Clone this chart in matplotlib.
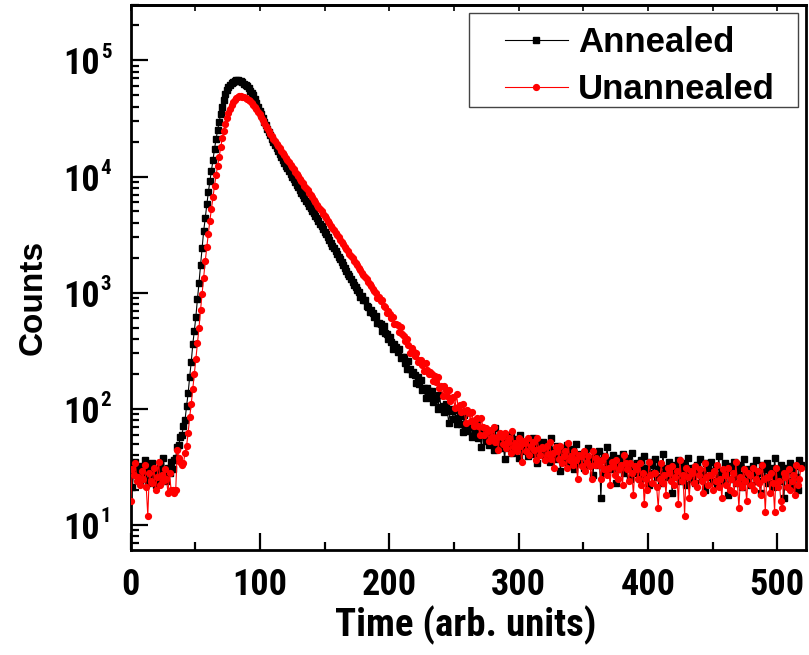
import numpy as np
import matplotlib
matplotlib.use('Agg')
import matplotlib.pyplot as plt
from matplotlib import font_manager as fm
from matplotlib.font_manager import FontProperties
from matplotlib.ticker import FixedLocator, LogLocator, NullFormatter, MultipleLocator
from matplotlib.patches import Rectangle
import matplotlib.transforms as mtransforms

# ---------------- data ----------------
time_step = 1.2  # time units per channel

annealed = [
    33, 21, 29, 35, 27, 30, 24, 32, 26, 36, 29, 23, 31, 27, 34, 28, 22, 30, 25, 33, 29, 38, 27, 24, 31, 28, 35, 30,
    36, 38, 47, 49, 57, 60, 71, 80, 106, 136, 189, 254, 358, 470, 622, 885, 1210, 1730, 2405, 3380,
    4370, 5750, 7310, 9120, 11220, 13800, 17380, 20890, 25120, 29510, 34670, 39810, 45710, 51290, 55590, 58880,
    61660, 63830, 65610, 66830, 67300, 67300, 66830, 66070, 64860, 63100, 61660, 60260, 57540, 54950, 52480,
    50120, 46450, 42950, 39810, 36810,
    34280, 31840, 29650, 27670, 25820, 24150, 22650, 21230, 19950, 18750, 17620, 16600, 15630, 14720, 13900,
    13120, 12420, 11750, 11120, 10520, 9980, 9460, 8970, 8510, 8070, 7660, 7280, 6920, 6530, 6190,
    5900, 5620, 5350, 5080, 4830, 4590, 4370, 4140, 3930, 3720, 3530, 3350, 3170, 3000, 2840, 2690, 2540,
    2400, 2280, 2150, 2040, 1930, 1820, 1730, 1630, 1550, 1460, 1380, 1310, 1240, 1170, 1110, 1050,
    1009, 921, 936, 863, 871, 771, 756, 676, 709, 665, 612, 625, 547, 543, 533, 468, 518, 445, 438, 399,
    416, 377, 326, 360, 340, 306, 326, 273, 280, 279, 247, 219, 256, 221, 200, 206, 195, 168, 186, 164,
    178, 144, 150, 125, 151, 141, 126, 142, 114, 121, 124, 100, 131, 103,
    106, 94, 109, 96, 76, 99, 95, 81, 97, 74, 83, 87, 74, 63, 88, 72, 64, 72, 69, 57, 71, 62, 75, 56, 62,
    47, 65, 61, 53, 65, 49, 55, 58, 44, 68, 50, 53, 46, 59, 50, 37, 56, 54, 46, 59, 42, 50, 55, 46, 38,
    60, 48, 43, 50, 49, 39, 52, 45, 56, 41, 46, 34, 51, 47, 41, 52, 38, 44, 47, 35, 56, 40, 44, 37, 48,
    41, 29, 46, 44, 37, 49, 34, 41, 45, 37, 30, 50, 39, 34, 41, 40, 31,
    42, 36, 46, 33, 37, 27, 42, 39, 33, 43, 17, 36, 39, 28, 47, 33, 36, 30, 40, 34, 23, 38, 37, 30, 41,
    28, 34, 38, 31, 25, 42, 33, 28, 34, 33, 25, 36, 30, 39, 27, 31,
    22, 35, 33, 28, 37, 26, 30, 33, 23, 41, 28, 31, 26, 35, 29, 19, 33, 32, 26, 36,
    24, 30, 34, 28, 22, 38, 30, 25, 31, 31, 23, 33, 28, 37, 25, 29, 20, 34, 31, 26,
    35, 24, 29, 32, 22, 39, 27, 29, 24, 34, 28, 18, 32, 31, 25, 35, 23, 29, 33, 27,
    21, 37, 28, 24, 30, 29, 22, 32, 27, 36, 24, 28, 19, 33, 30, 25, 34, 23, 28, 31,
    21, 38, 26, 28, 24, 33, 27, 17, 31, 30, 24, 34, 22, 28, 32, 26, 20, 36, 33,
]

unannealed = [
    16, 30, 27, 34, 24, 26, 22, 29, 25, 33, 21, 12, 28, 24, 23, 31, 20, 26, 35, 22, 27, 24, 30, 25, 19,
    28, 20, 20, 19, 20, 44, 38, 35, 33, 34, 42,
    48, 62, 85, 110, 148, 200, 270, 365, 500, 710, 980, 1350, 1860, 2460, 3210, 4170, 5250, 6610, 8320,
    10230, 12300, 14790, 17780, 21380, 24890, 28510, 32060, 35560, 38460, 41210, 43650, 45710, 47310,
    48420, 48980, 48980, 48530, 48080, 47420, 46560, 45500, 44260, 42850, 41300, 39630, 37840, 36060, 34280,
    32510, 30760, 29040, 27420, 25940, 24550, 23280, 22130, 21090, 20140, 19230, 18320, 17500, 16710,
    15960, 15240, 14520, 13870, 13240, 12650, 12080, 11530, 10990, 10500, 10020, 9570, 9140, 8730, 8320,
    7940, 7590, 7240, 6920, 6610, 6300, 6010, 5740, 5480, 5240, 5000, 4760, 4550, 4350, 4150, 3960, 3780,
    3610, 3440, 3290, 3140, 3000, 2860, 2730, 2610, 2490, 2380, 2270, 2170, 2070, 1970, 1880, 1800, 1720,
    1640, 1560, 1490, 1430, 1360, 1300, 1240, 1180, 1130, 1080, 1030,
    993, 906, 920, 849, 860, 760, 748, 667, 701, 657, 606, 619, 541, 537, 527, 461, 511, 438,
    427, 384, 397, 356, 305, 337, 317, 283, 303, 254, 263, 264, 236, 211, 249, 217, 199, 207, 198, 173,
    192, 171, 186, 152, 156, 130, 156, 145, 130, 145, 117, 123, 126, 101, 133, 104, 107, 94, 109, 95,
    75, 97, 92, 79, 94, 71, 80, 84, 71, 60, 84, 69, 60, 68, 65, 53, 66, 57, 69, 52, 57, 44, 62, 57, 50,
    62, 46, 52, 56, 42, 65, 47, 51, 43, 56,
    48, 35, 53, 51, 43, 56, 40, 48, 52, 44, 36, 56, 45, 40, 47, 46, 36, 48, 41, 52, 37, 42, 31, 47, 43,
    37, 48, 34, 39, 43, 31, 51, 36, 39, 33, 43, 36, 25, 40, 39, 32, 43,
    29, 35, 39, 32, 25, 43, 33, 38, 34, 33, 25, 36, 30, 39, 27, 31, 22, 35, 32, 27, 36, 25, 30, 33, 22,
    40, 34, 30, 24, 34, 28, 18, 32, 30, 25, 34, 22, 28, 15, 25, 20,
    35, 27, 23, 28, 28, 21, 14, 25, 34, 23,
    27, 18, 31, 28, 24, 32, 22, 26, 29, 15,
    36, 24, 27, 12, 31, 26, 17, 29, 28, 23,
    32, 21, 27, 30, 24, 19, 34, 26, 22, 27,
    27, 20, 29, 24, 33, 21, 25, 17, 30, 27,
    22, 31, 20, 25, 28, 19, 35, 23, 14, 26,
    21, 30, 24, 16, 28, 27, 22, 31, 20, 25,
    29, 23, 18, 33, 25, 13, 26, 26, 19, 28,
    23, 13, 31, 21, 24, 16, 14, 28, 26, 21,
    30, 20, 24, 27, 18, 33, 22, 25, 31,
]

series_labels = ['Annealed', 'Unannealed']
x_ticks = [0, 100, 200, 300, 400, 500]
x_ticklabels = ['0', '100', '200', '300', '400', '500']
y_decades = [10, 100, 1000, 10000, 100000]
y_exponents = ['1', '2', '3', '4', '5']
x_label = 'Time (arb. units)'
y_label = 'Counts'

# ---------------- fonts ----------------
names = {f.name for f in fm.fontManager.ttflist}
REG = 'Liberation Sans'
NARROW = None
for cand in ['Liberation Sans Narrow', 'Arial Narrow', 'Roboto Condensed', 'Open Sans Condensed']:
    if cand in names:
        NARROW = cand
        break
if NARROW is None:
    NARROW = REG
    tick_fs, xlab_fs = 24, 24
else:
    tick_fs, xlab_fs = 26, 28

# ---------------- figure ----------------
fig = plt.figure(figsize=(8.09, 6.55), dpi=100)
ax = fig.add_axes([0.1616, 0.1603, 0.8347, 0.8321])

t_a = np.arange(len(annealed)) * time_step
t_u = np.arange(len(unannealed)) * time_step

ax.plot(t_a, annealed, color='black', marker='s', ms=3.8, lw=0.8,
        mec='black', mfc='black', label=series_labels[0], zorder=3)
ax.plot(t_u, unannealed, color='red', marker='o', ms=4.2, lw=0.8,
        mec='red', mfc='red', label=series_labels[1], zorder=3)

ax.set_yscale('log')
ax.set_ylim(6.08, 3.0e5)
ax.set_xlim(0, 522.3)

for s in ax.spines.values():
    s.set_linewidth(2)

# x ticks
ax.xaxis.set_major_locator(FixedLocator(x_ticks))
ax.xaxis.set_minor_locator(MultipleLocator(50))
ax.set_xticklabels(x_ticklabels, fontsize=tick_fs, fontweight='bold', family=NARROW)
ax.tick_params(axis='x', which='major', direction='in', length=12, width=1.6, pad=12)
ax.tick_params(axis='x', which='minor', direction='in', length=6, width=1.6)

# top ticks (short)
secx = ax.secondary_xaxis('top')
secx.xaxis.set_major_locator(FixedLocator(x_ticks))
secx.xaxis.set_minor_locator(MultipleLocator(50))
secx.tick_params(which='both', direction='in', length=4, width=1.2, labeltop=False)
secx.spines['top'].set_linewidth(2)

# y ticks
ax.yaxis.set_major_locator(FixedLocator(y_decades))
ax.yaxis.set_minor_locator(LogLocator(base=10, subs=np.arange(2, 10)))
ax.yaxis.set_major_formatter(NullFormatter())
ax.yaxis.set_minor_formatter(NullFormatter())
ax.tick_params(axis='y', which='major', direction='in', length=12, width=1.6)
ax.tick_params(axis='y', which='minor', direction='in', length=6, width=1.6)

ytrans = ax.get_yaxis_transform()
for v, e in zip(y_decades, y_exponents):
    t1 = mtransforms.offset_copy(ytrans, fig=fig, x=-31, y=-14, units='dots')
    ax.text(0, v, '10', transform=t1, ha='right', va='baseline',
            fontsize=tick_fs, fontweight='bold', family=NARROW)
    t2 = mtransforms.offset_copy(ytrans, fig=fig, x=-30, y=2.5, units='dots')
    ax.text(0, v, e, transform=t2, ha='left', va='baseline',
            fontsize=15, fontweight='bold', family=NARROW)

# axis labels
ax.set_xlabel(x_label, fontsize=xlab_fs, fontweight='bold', family=NARROW)
ax.xaxis.set_label_coords(0.4965, -0.102)
ax.set_ylabel(y_label, fontsize=24, fontweight='bold', family=REG)
ax.yaxis.set_label_coords(-0.121, 0.464)

# legend
frame = Rectangle((0.501, 0.813), 0.487, 0.172, transform=ax.transAxes,
                  facecolor='white', edgecolor='#444444', lw=1.0, zorder=4)
ax.add_patch(frame)
leg = ax.legend(loc='upper left', bbox_to_anchor=(0.554, 0.962), frameon=False,
                borderpad=0, borderaxespad=0, handlelength=1.82, handletextpad=0.29,
                labelspacing=0.42, numpoints=1,
                prop=FontProperties(family=REG, weight='bold', size=25))
leg.set_zorder(5)

fig.savefig('out.png', dpi=100)
